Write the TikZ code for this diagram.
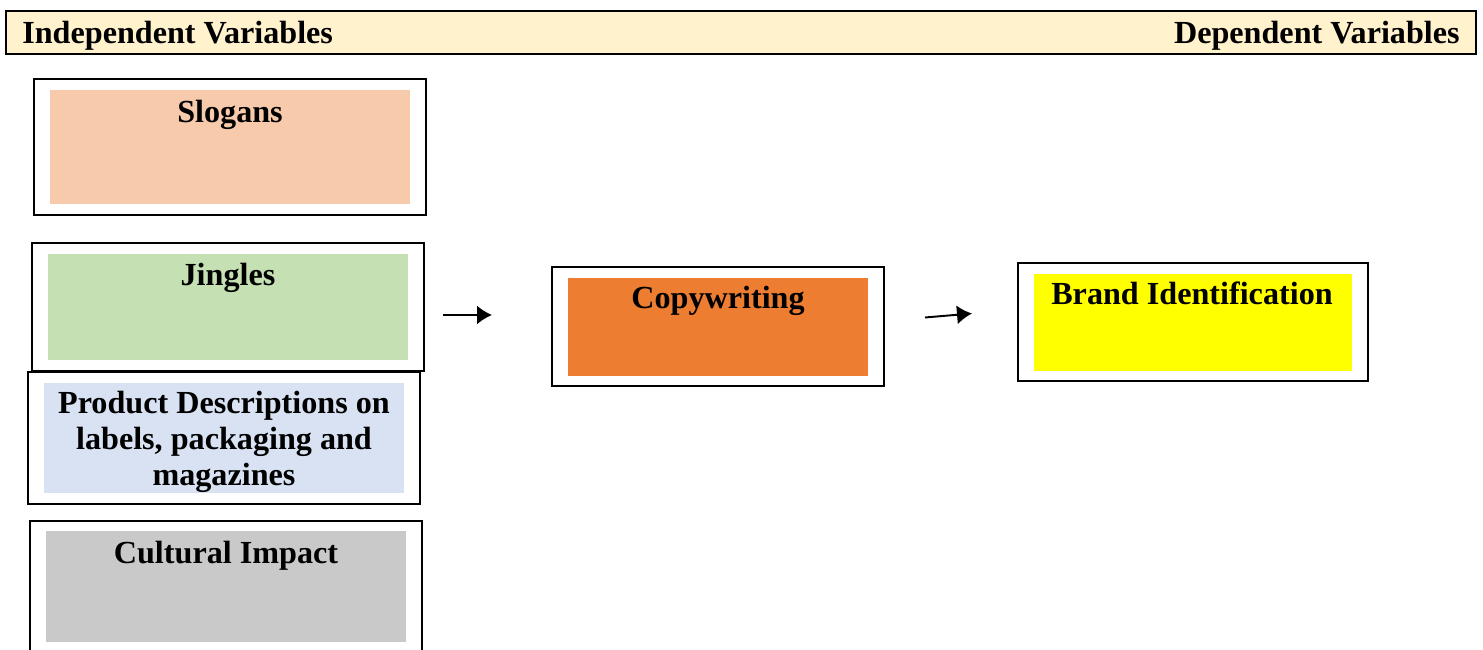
\documentclass[tikz,border=0pt]{standalone}
\usepackage{fontspec}
\setmainfont{Liberation Serif}
\usetikzlibrary{arrows.meta}
\definecolor{headfill}{HTML}{FFF2CC}
\definecolor{slogfill}{HTML}{F7CAAC}
\definecolor{jingfill}{HTML}{C5E0B3}
\definecolor{prodfill}{HTML}{D9E2F3}
\definecolor{cultfill}{HTML}{C9C9C9}
\definecolor{copyfill}{HTML}{ED7D31}
\definecolor{brandfill}{HTML}{FFFF00}
\begin{document}
\begin{tikzpicture}[
  frame/.style={line width=1.1pt},
  lbl/.style={font=\fontsize{18.3}{20.6}\selectfont\bfseries, anchor=base, inner sep=0pt},
  arr/.style={line width=1.1pt, -{Latex[length=0.3cm,width=0.38cm]}}]
\useasboundingbox (0,0) rectangle (29.66,-13);
% header bar
\draw[line width=1.6pt, fill=headfill] (0.12,-0.22) rectangle (29.52,-1.08);
\node[lbl, anchor=base west] (indep) at (0.44,-0.88) {Independent Variables};
\node[lbl, anchor=base east] (dep) at (29.2,-0.88) {Dependent Variables};
% left column
\draw[frame] (0.68,-1.58) rectangle (8.52,-4.30);
\fill[slogfill] (1.0,-1.80) rectangle (8.2,-4.08);
\node[lbl] (slogans) at (4.6,-2.45) {Slogans};
\draw[frame] (0.64,-4.86) rectangle (8.48,-7.42);
\fill[jingfill] (0.96,-5.08) rectangle (8.16,-7.2);
\node[lbl] (jingles) at (4.56,-5.72) {Jingles};
\draw[frame] (0.56,-7.44) rectangle (8.4,-10.08);
\fill[prodfill] (0.88,-7.66) rectangle (8.08,-9.86);
\node[lbl] (prod1) at (4.48,-8.28) {Product Descriptions on};
\node[lbl] (prod2) at (4.48,-9.0) {labels, packaging and};
\node[lbl] (prod3) at (4.48,-9.72) {magazines};
\draw[frame] (0.6,-13.1) -- (0.6,-10.42) -- (8.44,-10.42) -- (8.44,-13.1);
\fill[cultfill] (0.92,-10.62) rectangle (8.12,-12.84);
\node[lbl] (cultural) at (4.52,-11.28) {Cultural Impact};
% middle
\draw[frame] (11.04,-5.34) rectangle (17.68,-7.72);
\fill[copyfill] (11.36,-5.56) rectangle (17.36,-7.52);
\node[lbl] (copy) at (14.36,-6.18) {Copywriting};
% right
\draw[frame] (20.36,-5.26) rectangle (27.36,-7.62);
\fill[brandfill] (20.68,-5.48) rectangle (27.04,-7.42);
\node[lbl] (brand) at (23.84,-6.1) {Brand Identification};
% arrows
\coordinate (a1s) at (8.86,-6.3);
\coordinate (a1e) at (9.84,-6.3);
\coordinate (a2s) at (18.5,-6.35);
\coordinate (a2e) at (19.44,-6.27);
\draw[arr] (a1s) -- (a1e);
\draw[arr] (a2s) -- (a2e);
\end{tikzpicture}
\end{document}
